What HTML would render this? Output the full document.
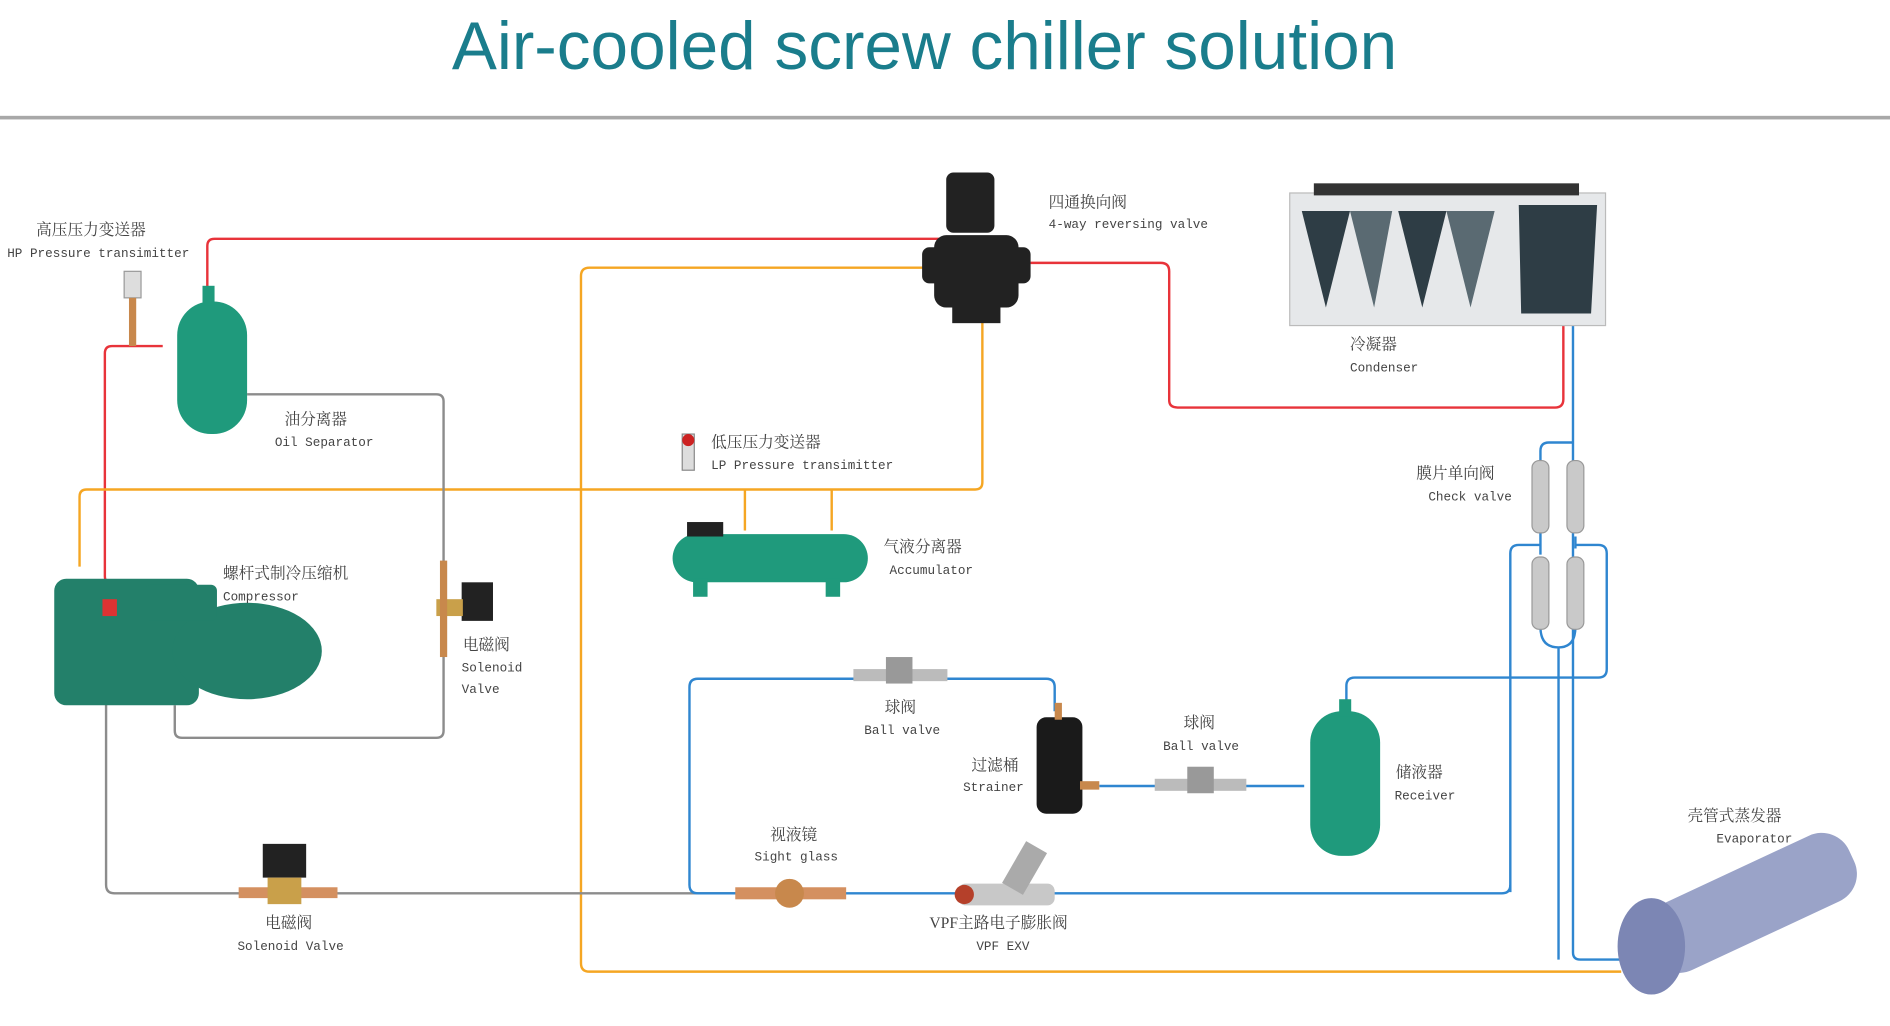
<!DOCTYPE html>
<html><head><meta charset="utf-8"><style>
html,body{margin:0;padding:0;background:#fff;width:1890px;height:1026px;overflow:hidden}
svg{display:block}
.cn{font-family:"Liberation Serif","Noto Serif CJK SC",serif;font-size:13px;fill:#444}
.en{font-family:"Liberation Mono",monospace;font-size:10.5px;fill:#444}
</style></head><body>
<svg width="1890" height="1026" viewBox="0 0 1568 851" xmlns="http://www.w3.org/2000/svg">
<text x="767" y="57" text-anchor="middle" font-family="Liberation Sans,sans-serif" font-size="56" fill="#1a7d8c">Air-cooled screw chiller solution</text>
<rect x="0" y="96" width="1568" height="3" fill="#a8a8a8"/>
<g fill="none" stroke-width="2">
<!-- red -->
<path d="M172 240 V204 Q172 198 178 198 H780" stroke="#e8333a"/>
<path d="M855 218 H963 Q970 218 970 225 V332 Q970 338 977 338 H1290 Q1297 338 1297 331 V265" stroke="#e8333a"/>
<path d="M135 287 H93 Q87 287 87 293 V478 Q87 484 93 484 H125" stroke="#e8333a"/>
<!-- orange -->
<path d="M780 222 H489 Q482 222 482 229 V799 Q482 806 489 806 H1345" stroke="#f5a623"/>
<path d="M815 265 V400 Q815 406 809 406 H72 Q66 406 66 412 V470" stroke="#f5a623"/>
<path d="M618 406 V440 M690 406 V440" stroke="#f5a623"/>
<!-- gray -->
<path d="M205 327 H362 Q368 327 368 333 V470 M368 545 V606 Q368 612 362 612 H151 Q145 612 145 606 V585" stroke="#8c8c8c"/>
<path d="M88 570 V734 Q88 741 95 741 H612" stroke="#8c8c8c"/>
<!-- blue -->
<path d="M1305 265 V790 Q1305 796 1311 796 H1345" stroke="#2f86d0"/>
<path d="M1305 367 H1285 Q1278 367 1278 374 V385" stroke="#2f86d0"/>
<path d="M1278 440 V460 M1307 445 V455" stroke="#2f86d0"/>
<path d="M1253 740 V459 Q1253 452 1260 452 H1278 M1307 452 H1326 Q1333 452 1333 459 V555 Q1333 562 1326 562 H1124 Q1117 562 1117 569 V583" stroke="#2f86d0"/>
<path d="M1278 520 Q1278 537 1293 537 Q1307 537 1307 520 M1293 537 V796" stroke="#2f86d0"/>
<path d="M700 741 H1246 Q1253 741 1253 734" stroke="#2f86d0"/>
<path d="M612 741 H579 Q572 741 572 734 V570 Q572 563 579 563 H868 Q875 563 875 570 V590" stroke="#2f86d0"/>
<path d="M912 652 H1082" stroke="#2f86d0"/>
</g>
<!-- condenser -->
<g><rect x="1070" y="160" width="262" height="110" fill="#e6e8ea" stroke="#bbb"/>
<rect x="1090" y="152" width="220" height="10" fill="#333"/>
<path d="M1080 175 L1100 255 L1120 175 Z M1160 175 L1180 255 L1200 175 Z M1260 170 L1325 170 L1320 260 L1262 260Z" fill="#2e3d45"/>
<path d="M1120 175 L1140 255 L1155 175Z M1200 175 L1220 255 L1240 175Z" fill="#5a6a72"/></g>
<!-- 4-way valve -->
<g fill="#222"><rect x="785" y="143" width="40" height="50" rx="6"/><rect x="775" y="195" width="70" height="60" rx="10"/><rect x="765" y="205" width="90" height="30" rx="6"/><rect x="790" y="250" width="40" height="18"/></g>
<!-- oil separator -->
<g fill="#1f9a7c"><rect x="147" y="250" width="58" height="110" rx="28"/><rect x="168" y="237" width="10" height="16"/></g>
<rect x="103" y="225" width="14" height="22" fill="#ddd" stroke="#999"/><rect x="107" y="247" width="6" height="40" fill="#c8884c"/>
<!-- compressor -->
<g fill="#23806a"><rect x="45" y="480" width="120" height="105" rx="10"/><ellipse cx="205" cy="540" rx="62" ry="40"/><rect x="120" y="485" width="60" height="30" rx="5"/></g>
<rect x="85" y="497" width="12" height="14" fill="#d33"/>
<!-- solenoid right -->
<rect x="383" y="483" width="26" height="32" fill="#222"/><rect x="362" y="497" width="22" height="14" fill="#c9a04a"/><rect x="365" y="465" width="6" height="80" fill="#c8884c"/>
<!-- LP transmitter -->
<rect x="566" y="360" width="10" height="30" fill="#ddd" stroke="#888"/><circle cx="571" cy="365" r="5" fill="#c22"/>
<!-- accumulator -->
<rect x="558" y="443" width="162" height="40" rx="20" fill="#1f9a7c"/><rect x="575" y="480" width="12" height="15" fill="#1f9a7c"/><rect x="685" y="480" width="12" height="15" fill="#1f9a7c"/>
<rect x="570" y="433" width="30" height="12" fill="#222"/>
<!-- solenoid bottom -->
<rect x="218" y="700" width="36" height="28" fill="#222"/><rect x="198" y="736" width="82" height="9" fill="#d49060"/><rect x="222" y="728" width="28" height="22" fill="#c9a04a"/>
<!-- ball valves -->
<rect x="708" y="555" width="78" height="10" fill="#bbb"/><rect x="735" y="545" width="22" height="22" fill="#999"/>
<rect x="958" y="646" width="76" height="10" fill="#bbb"/><rect x="985" y="636" width="22" height="22" fill="#999"/>
<!-- strainer -->
<rect x="860" y="595" width="38" height="80" rx="8" fill="#1a1a1a"/><rect x="875" y="583" width="6" height="14" fill="#c8884c"/><rect x="896" y="648" width="16" height="7" fill="#c8884c"/>
<!-- receiver -->
<rect x="1087" y="590" width="58" height="120" rx="26" fill="#1f9a7c"/><rect x="1111" y="580" width="10" height="14" fill="#1f9a7c"/>
<!-- sight glass -->
<rect x="610" y="736" width="92" height="10" fill="#d49060"/><circle cx="655" cy="741" r="12" fill="#c8884c"/>
<!-- EXV -->
<rect x="795" y="733" width="80" height="18" rx="6" fill="#c8c8c8"/><rect x="840" y="700" width="20" height="40" fill="#aaa" transform="rotate(30 850 720)"/><circle cx="800" cy="742" r="8" fill="#b5402a"/>
<!-- check valves -->
<g fill="#c9c9c9" stroke="#999"><rect x="1271" y="382" width="14" height="60" rx="6"/><rect x="1300" y="382" width="14" height="60" rx="6"/><rect x="1271" y="462" width="14" height="60" rx="6"/><rect x="1300" y="462" width="14" height="60" rx="6"/></g>
<!-- evaporator -->
<g fill="#9aa3c8"><rect x="1360" y="720" width="185" height="60" rx="25" transform="rotate(-25 1450 750)"/><ellipse cx="1370" cy="785" rx="28" ry="40" fill="#7c86b4"/></g>
<!-- labels -->
<text class="cn" x="30" y="195">高压压力变送器</text><text class="en" x="6" y="213">HP Pressure transimitter</text>
<text class="cn" x="236" y="352">油分离器</text><text class="en" x="228" y="370">Oil Separator</text>
<text class="cn" x="870" y="172">四通换向阀</text><text class="en" x="870" y="189">4-way reversing valve</text>
<text class="cn" x="1120" y="290">冷凝器</text><text class="en" x="1120" y="308">Condenser</text>
<text class="cn" x="590" y="371">低压压力变送器</text><text class="en" x="590" y="389">LP Pressure transimitter</text>
<text class="cn" x="1175" y="397">膜片单向阀</text><text class="en" x="1185" y="415">Check valve</text>
<text class="cn" x="733" y="458">气液分离器</text><text class="en" x="738" y="476">Accumulator</text>
<text class="cn" x="185" y="480">螺杆式制冷压缩机</text><text class="en" x="185" y="498">Compressor</text>
<text class="cn" x="384" y="539">电磁阀</text><text class="en" x="383" y="557">Solenoid</text><text class="en" x="383" y="575">Valve</text>
<text class="cn" x="734" y="591">球阀</text><text class="en" x="717" y="609">Ball valve</text>
<text class="cn" x="982" y="604">球阀</text><text class="en" x="965" y="622">Ball valve</text>
<text class="cn" x="806" y="639">过滤桶</text><text class="en" x="799" y="656">Strainer</text>
<text class="cn" x="1158" y="645">储液器</text><text class="en" x="1157" y="663">Receiver</text>
<text class="cn" x="1400" y="681">壳管式蒸发器</text><text class="en" x="1424" y="699">Evaporator</text>
<text class="cn" x="639" y="697">视液镜</text><text class="en" x="626" y="714">Sight glass</text>
<text class="cn" x="771" y="770">VPF主路电子膨胀阀</text><text class="en" x="810" y="788">VPF EXV</text>
<text class="cn" x="220" y="770">电磁阀</text><text class="en" x="197" y="788">Solenoid Valve</text>
</svg>
</body></html>
